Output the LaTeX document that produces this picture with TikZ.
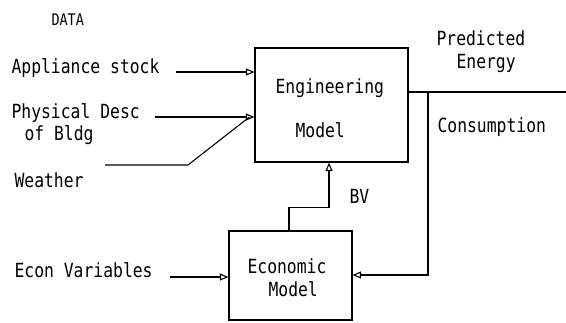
\documentclass[tikz,border=0pt]{standalone}
\usepackage{fontspec}
\setmainfont{DejaVu Sans Mono}[FakeStretch=0.84]
\usetikzlibrary{arrows.meta}
\begin{document}
\begin{tikzpicture}[x=1pt,y=-1pt,
  line width=1.1pt,
  arr/.style={-{Triangle[open,length=8.5pt,width=7pt]}},
  txt/.style={anchor=base west,inner sep=0pt,font=\fontsize{19.5}{22}\selectfont},
  box/.style={draw,rectangle,inner sep=0pt}]
\useasboundingbox (0,0) rectangle (566,322);
% boxes
\node[box,minimum width=153pt,minimum height=114pt] (eng) at (331.5,105) {};
\node[box,minimum width=123pt,minimum height=89pt] (econ) at (290.5,275.5) {};
% texts
\node[txt,font=\fontsize{16}{18}\selectfont] (data) at (51,25) {DATA};
\node[txt] (appl) at (11,73) {Appliance stock};
\node[txt] (phys) at (11,118) {Physical Desc};
\node[txt] (bldg) at (24,140) {of Bldg};
\node[txt] (weat) at (14,187) {Weather};
\node[txt] (econv) at (14,277) {Econ Variables};
\node[txt] (engA) at (275,93) {Engineering};
\node[txt] (engB) at (295,137) {Model};
\node[txt] (ecoA) at (247,273) {Economic};
\node[txt] (ecoB) at (268,296) {Model};
\node[txt] (pred) at (436,45) {Predicted};
\node[txt] (ener) at (456,68) {Energy};
\node[txt] (cons) at (437,132) {Consumption};
\node[txt] (bv) at (349,203) {BV};
% connector endpoints
\coordinate (a1) at (176,72);
\coordinate (p1) at (155,117);
\coordinate (w1) at (105,165);
\coordinate (w2) at (188,165);
\coordinate (e1) at (170,277);
\coordinate (out) at (566,92);
\coordinate (fb) at (428,92);
% connectors
\draw[arr] (a1) -- (a1 -| eng.west);
\draw[arr] (p1) -- (p1 -| eng.west);
\draw (w1) -- (w2) -- ([xshift=-5pt]p1 -| eng.west);
\draw[arr] (e1) -- (e1 -| econ.west);
\draw (out -| eng.east) -- (out);
\draw[arr] (fb) -- (fb |- 0,275) -- (econ.east |- 0,275);
\draw[arr] ([xshift=-1.5pt]econ.north) -- ++(0,-23) -| ([xshift=-2.5pt]eng.south);
\end{tikzpicture}
\end{document}
